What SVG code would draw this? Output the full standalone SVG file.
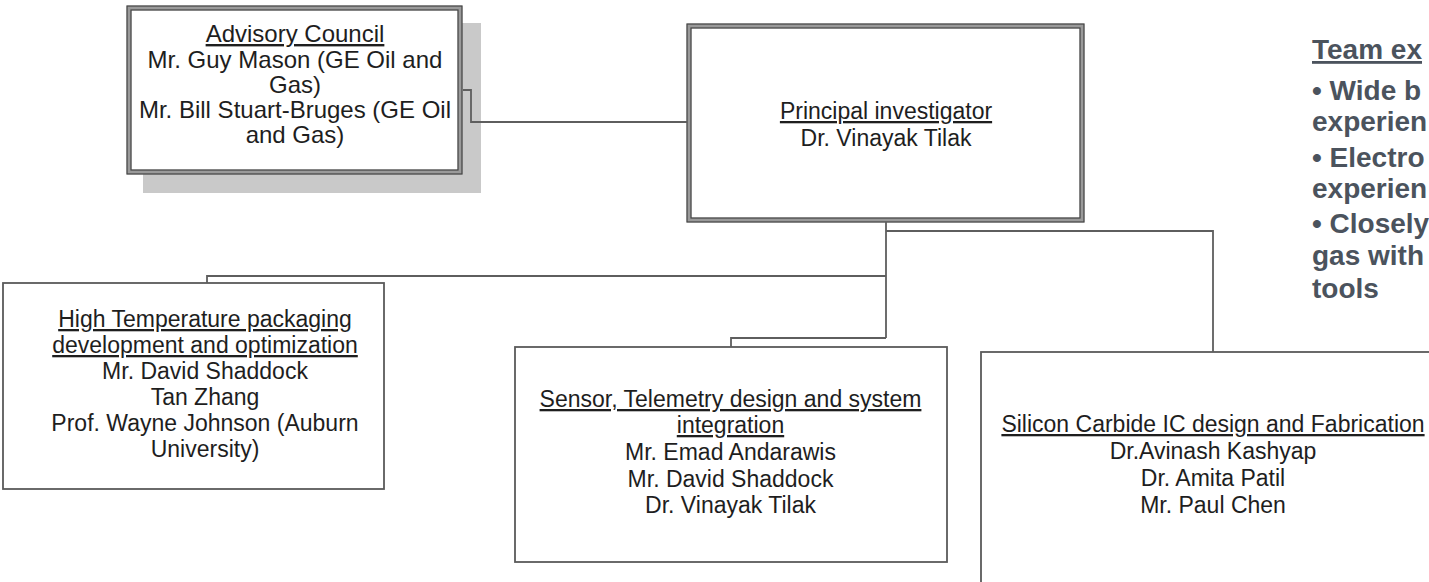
<svg xmlns="http://www.w3.org/2000/svg" width="1429" height="582" viewBox="0 0 1429 582">
<style>
.t{font-family:"Liberation Sans",Arial,sans-serif;font-size:23px;fill:#1e1e1e;text-anchor:middle}
.a{font-size:24px}
.u{text-decoration:underline}
.box{fill:#fff;stroke:#5a5a5a;stroke-width:1.8}
.dbl{fill:#fff;stroke:#9a9a9a;stroke-width:4.5}
.thin{fill:none;stroke:#444;stroke-width:1.2}
.conn{fill:none;stroke:#5e5e5e;stroke-width:1.8}
.team{font-family:"Liberation Sans",Arial,sans-serif;font-size:28px;font-weight:bold;fill:#4b535d}
</style>
<rect width="1429" height="582" fill="#fff"/>
<g id="advisory">
<rect x="143" y="23" width="338" height="170" fill="#c9c9c9"/>
<rect class="dbl" x="129" y="8" width="331" height="164"/>
<rect class="thin" x="127" y="6" width="335" height="168"/>
<rect class="thin" x="131" y="10" width="327" height="160"/>
<text class="t a u" x="295" y="42">Advisory Council</text>
<text class="t a" x="295" y="68">Mr. Guy Mason (GE Oil and</text>
<text class="t a" x="295" y="93">Gas)</text>
<text class="t a" x="295" y="118">Mr. Bill Stuart-Bruges (GE Oil</text>
<text class="t a" x="295" y="143">and Gas)</text>
</g>
<g id="pi">
<rect class="dbl" x="689" y="26" width="393" height="194"/>
<rect class="thin" x="687" y="24" width="397" height="198"/>
<rect class="thin" x="691" y="28" width="389" height="190"/>
<text class="t u" x="886" y="119">Principal investigator</text>
<text class="t" x="886" y="146">Dr. Vinayak Tilak</text>
</g>
<g id="packaging">
<rect class="box" x="3" y="283" width="381" height="206"/>
<text class="t u" x="205" y="327">High Temperature packaging</text>
<text class="t u" x="205" y="353">development and optimization</text>
<text class="t" x="205" y="379">Mr. David Shaddock</text>
<text class="t" x="205" y="405">Tan Zhang</text>
<text class="t" x="205" y="431">Prof. Wayne Johnson (Auburn</text>
<text class="t" x="205" y="457">University)</text>
</g>
<g id="sensor">
<rect class="box" x="515" y="347" width="432" height="215"/>
<text class="t u" x="730.5" y="407">Sensor, Telemetry design and system</text>
<text class="t u" x="730.5" y="433">integration</text>
<text class="t" x="730.5" y="460">Mr. Emad Andarawis</text>
<text class="t" x="730.5" y="487">Mr. David Shaddock</text>
<text class="t" x="730.5" y="513">Dr. Vinayak Tilak</text>
</g>
<g id="sic">
<rect class="box" x="981" y="352" width="449" height="231"/>
<text class="t u" x="1213" y="432">Silicon Carbide IC design and Fabrication</text>
<text class="t" x="1213" y="459">Dr.Avinash Kashyap</text>
<text class="t" x="1213" y="486">Dr. Amita Patil</text>
<text class="t" x="1213" y="513">Mr. Paul Chen</text>
</g>
<g id="team">
<text class="team u" x="1312" y="59">Team ex</text>
<text class="team" x="1312" y="100">• Wide b</text>
<text class="team" x="1312" y="131">experien</text>
<text class="team" x="1312" y="167">• Electro</text>
<text class="team" x="1312" y="198">experien</text>
<text class="team" x="1312" y="233">• Closely</text>
<text class="team" x="1312" y="265">gas with</text>
<text class="team" x="1312" y="298">tools</text>
</g>
<g id="connectors">
<path class="conn" d="M463,90 H471 V122 H687"/>
<path class="conn" d="M886,222 V338"/>
<path class="conn" d="M886,231 H1213 V352"/>
<path class="conn" d="M886,276 H207 V283"/>
<path class="conn" d="M886,338 H731 V347"/>
</g>
</svg>
